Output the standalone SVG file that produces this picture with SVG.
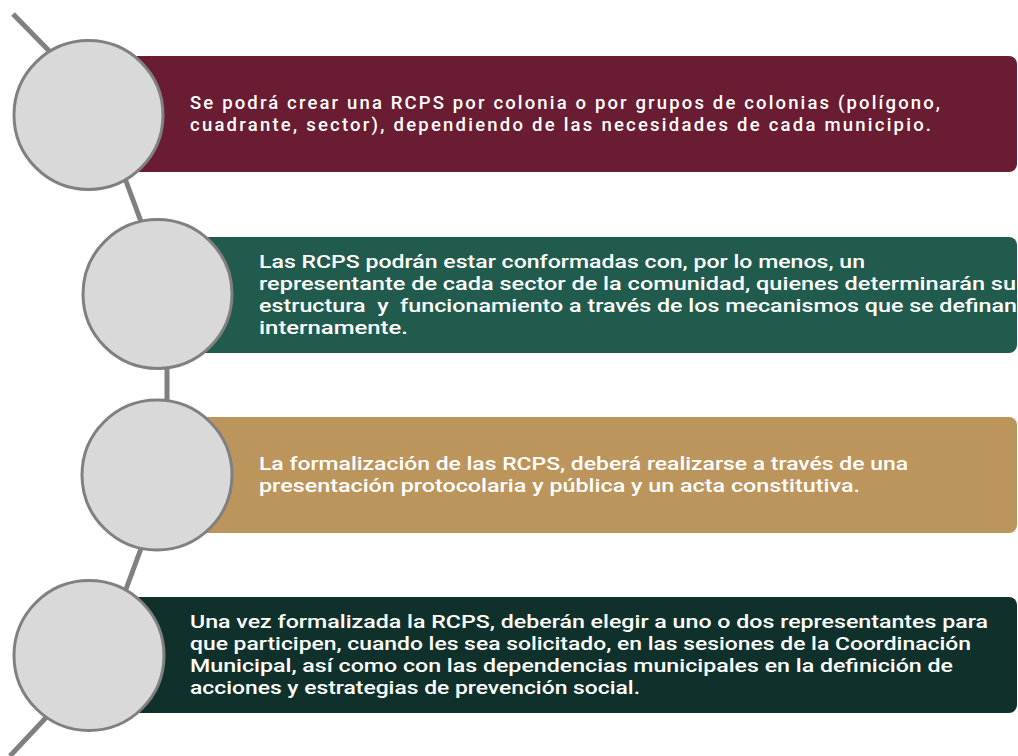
<svg xmlns="http://www.w3.org/2000/svg" width="1018" height="756" viewBox="0 0 1018 756">
<style>
.link{stroke:#808080;stroke-width:5;fill:none;stroke-linecap:butt}
.dot{fill:#d9d9d9;stroke:#808080;stroke-width:3}
.t{font-family:Roboto,"Liberation Sans",sans-serif;font-size:18.5px;font-weight:500;fill:#ffffff}
</style>
<rect width="1018" height="756" fill="#ffffff"/>
<g id="connectors">
<line class="link" x1="13" y1="14" x2="60" y2="62"/>
<line class="link" x1="120" y1="165" x2="146" y2="235"/>
<line class="link" x1="167" y1="360" x2="167" y2="410"/>
<line class="link" x1="146" y1="535" x2="122" y2="600"/>
<line class="link" x1="55" y1="708" x2="10" y2="756"/>
</g>
<g id="node1">
<rect x="88" y="56" width="929" height="116" rx="8" fill="#691c32"/>
<circle class="dot" cx="88.5" cy="115" r="74.5"/>
<text class="t" lengthAdjust="spacingAndGlyphs"><tspan x="190" y="109" textLength="750">Se podrá crear una RCPS por colonia o por grupos de colonias (polígono,</tspan><tspan x="190" y="131" textLength="741">cuadrante, sector), dependiendo de las necesidades de cada municipio.</tspan></text>
</g>
<g id="node2">
<rect x="157" y="237" width="860" height="116" rx="8" fill="#215b4d"/>
<circle class="dot" cx="157.5" cy="294" r="74.5"/>
<text class="t" xml:space="preserve"><tspan x="259" y="268" textLength="606" lengthAdjust="spacingAndGlyphs">Las RCPS podrán estar conformadas con, por lo menos, un</tspan><tspan x="259" y="290" textLength="757" lengthAdjust="spacingAndGlyphs">representante de cada sector de la comunidad, quienes determinarán su</tspan><tspan x="259" y="312" textLength="758" lengthAdjust="spacingAndGlyphs">estructura  y  funcionamiento a través de los mecanismos que se definan</tspan><tspan x="259" y="334" textLength="149" lengthAdjust="spacingAndGlyphs">internamente.</tspan></text>
</g>
<g id="node3">
<rect x="157" y="417" width="860" height="116" rx="8" fill="#bc955c"/>
<circle class="dot" cx="157" cy="475" r="75"/>
<text class="t"><tspan x="259" y="470" textLength="649" lengthAdjust="spacingAndGlyphs">La formalización de las RCPS, deberá realizarse a través de una</tspan><tspan x="259" y="492" textLength="601" lengthAdjust="spacingAndGlyphs">presentación protocolaria y pública y un acta constitutiva.</tspan></text>
</g>
<g id="node4">
<rect x="89" y="597" width="928" height="116" rx="8" fill="#10312b"/>
<circle class="dot" cx="89" cy="655.5" r="75"/>
<text class="t"><tspan x="190" y="628" textLength="798" lengthAdjust="spacingAndGlyphs">Una vez formalizada la RCPS, deberán elegir a uno o dos representantes para</tspan><tspan x="190" y="650" textLength="781" lengthAdjust="spacingAndGlyphs">que participen, cuando les sea solicitado, en las sesiones de la Coordinación</tspan><tspan x="190" y="672" textLength="763" lengthAdjust="spacingAndGlyphs">Municipal, así como con las dependencias municipales en la definición de</tspan><tspan x="190" y="694" textLength="450" lengthAdjust="spacingAndGlyphs">acciones y estrategias de prevención social.</tspan></text>
</g>
</svg>
